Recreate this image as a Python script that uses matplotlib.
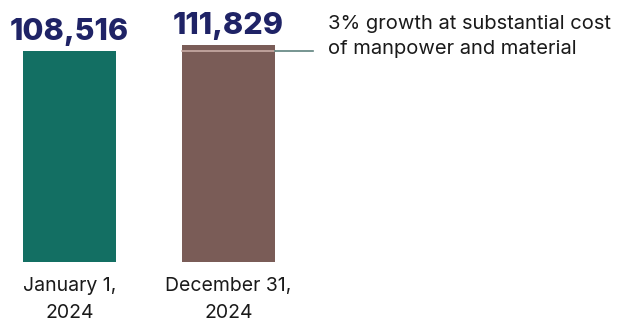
import matplotlib.pyplot as plt

# data
categories = ['January 1,\n2024', 'December 31,\n2024']
values = [108516, 111829]
value_labels = ['108,516', '111,829']
bar_colors = ['#136f63', '#7a5c57']
note = '3% growth at substantial cost\nof manpower and material'

plt.rcParams['font.family'] = ['Inter', 'DejaVu Sans']

fig = plt.figure(figsize=(6.17, 3.22), dpi=100)
ax = fig.add_axes([0, 0, 1, 1])

x = [0, 1]
ax.bar(x, values, width=0.585, color=bar_colors)

# labels above the bars
for xi, v, lab in zip(x, values, value_labels):
    ax.annotate(lab, (xi, v), xytext=(0, 8), textcoords='offset points',
                ha='center', va='baseline', fontsize=22, fontweight='heavy',
                color='#1f2366')

# category labels under the bars
for xi, cat in zip(x, categories):
    ax.annotate(cat, (xi, 0), xytext=(0, -10.5), textcoords='offset points',
                ha='center', va='top', fontsize=14, color='#1a1a1a',
                linespacing=1.7)

# level of the first bar carried over to the second one
ax.plot([1 - 0.2925, 1 + 0.2925], [values[0], values[0]], color='#c9aca6', lw=1.2)
ax.plot([1 + 0.2925, 1.531], [values[0], values[0]], color='#5f837e', lw=1.2)
ax.annotate(note, (1.626, values[0]), xytext=(0, 26), textcoords='offset points',
            ha='left', va='top', fontsize=14.5, color='#1a1a1a', linespacing=1.5)

ax.set_xlim(-0.437, 3.443)
ax.set_ylim(-30920, 135015)
ax.axis('off')

fig.savefig('out.png', dpi=100)
